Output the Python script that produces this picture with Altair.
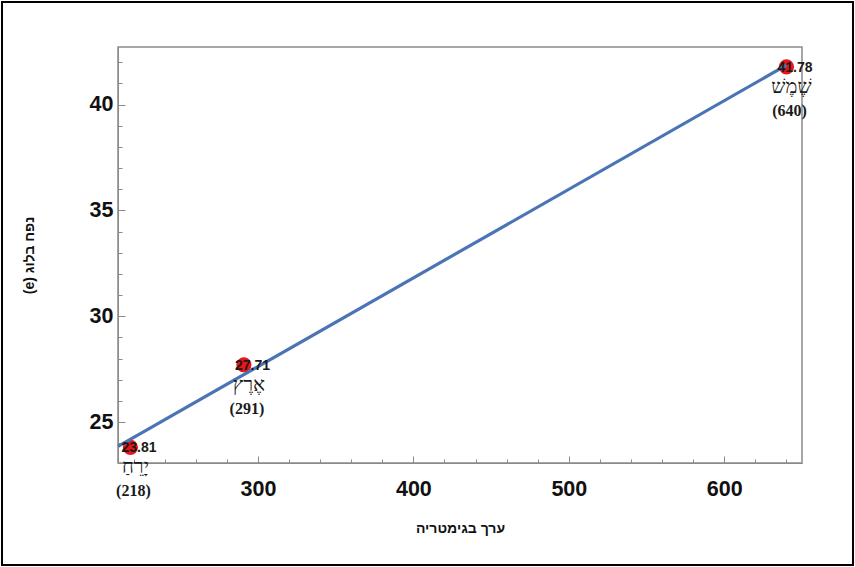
import altair as alt
import pandas as pd

gematria = [218, 291, 640]
volume_ln = [23.81, 27.71, 41.78]
names = ["יָרֵחַ", "אֶרֶץ", "שֶׁמֶשׁ"]
value_labels = ["23.81", "27.71", "41.78"]
paren_labels = ["(218)", "(291)", "(640)"]

x_major = [300, 400, 500, 600]
x_minor = [v for v in range(220, 650, 20) if v not in x_major]
y_major = [25, 30, 35, 40]
y_minor = [v for v in range(24, 43) if v not in y_major]

x_title = "ערך בגימטריה"
y_title = "\u202bנפח בלוג (e)\u202c"

df = pd.DataFrame({
    "x": gematria,
    "y": volume_ln,
    "name": names,
    "val": value_labels,
    "par": paren_labels,
})

W, H = 684, 416
xs = alt.Scale(domain=[210, 650], nice=False, zero=False)
ys = alt.Scale(domain=[23.07, 42.72], nice=False, zero=False)

GRAY = "#8a8a8a"

# axes carrying labels and titles (no ticks)
label_x_axis = alt.Axis(
    orient="bottom", values=x_major, title=x_title, grid=False, ticks=False,
    domainColor=GRAY,
    labelFont="Liberation Sans", labelFontSize=21.5, labelFontWeight="bold",
    labelColor="#111111", labelPadding=15,
    titleFont="Liberation Sans", titleFontSize=14, titleFontWeight="bold",
    titleColor="#111111", titlePadding=22,
)
label_y_axis = alt.Axis(
    orient="left", values=y_major, title=y_title, grid=False, ticks=False,
    domainColor=GRAY,
    labelFont="Liberation Sans", labelFontSize=21.5, labelFontWeight="bold",
    labelColor="#111111", labelPadding=5,
    titleFont="Liberation Sans", titleFontSize=14, titleFontWeight="bold",
    titleColor="#111111", titlePadding=53,
)
# inward major ticks
major_x_ticks = alt.Axis(
    orient="bottom", values=x_major, title=None, labels=False, domain=False,
    grid=False, tickSize=alt.ExprRef(expr="-7"), tickColor=GRAY,
)
major_y_ticks = alt.Axis(
    orient="left", values=y_major, title=None, labels=False, domain=False,
    grid=False, tickSize=alt.ExprRef(expr="-7"), tickColor=GRAY,
)
# inward minor ticks
minor_x_ticks = alt.Axis(
    orient="bottom", values=x_minor, title=None, labels=False, domain=False,
    grid=False, tickSize=alt.ExprRef(expr="-4"), tickColor=GRAY,
)
minor_y_ticks = alt.Axis(
    orient="left", values=y_minor, title=None, labels=False, domain=False,
    grid=False, tickSize=alt.ExprRef(expr="-4"), tickColor=GRAY,
)

base = alt.Chart(df)

frame = alt.Chart(alt.Data(values=[{}])).mark_rect(
    fill=None, stroke="black", strokeWidth=2
).encode(
    x=alt.value(-116), x2=alt.value(735), y=alt.value(-45), y2=alt.value(518)
)

points = base.mark_circle(size=230, color="#e8161b", opacity=1).encode(
    x=alt.X("x:Q", scale=xs, axis=label_x_axis),
    y=alt.Y("y:Q", scale=ys, axis=label_y_axis),
)

line = base.transform_regression(
    "x", "y", extent=[210, 640]
).mark_line(color="#4a74b5", strokeWidth=3.2).encode(
    x=alt.X("x:Q", scale=xs, axis=major_x_ticks),
    y=alt.Y("y:Q", scale=ys, axis=major_y_ticks),
)

vals = base.mark_text(
    align="left", baseline="middle", dx=-9, dy=1,
    font="Liberation Sans", fontSize=14, fontWeight="bold", color="#1a1a1a",
).encode(
    x=alt.X("x:Q", scale=xs, axis=minor_x_ticks),
    y=alt.Y("y:Q", scale=ys, axis=minor_y_ticks),
    text="val:N",
)

name_txt = base.mark_text(
    align="center", baseline="middle", dx=5, dy=20,
    font="Liberation Serif", fontSize=20, color="#1a1a1a",
).encode(
    x=alt.X("x:Q", scale=xs, axis=None),
    y=alt.Y("y:Q", scale=ys, axis=None),
    text="name:N",
)

par_txt = base.mark_text(
    align="center", baseline="middle", dx=3, dy=44,
    font="Liberation Serif", fontSize=16, fontWeight="bold", color="#1a1a1a",
).encode(
    x=alt.X("x:Q", scale=xs, axis=None),
    y=alt.Y("y:Q", scale=ys, axis=None),
    text="par:N",
)

chart = alt.layer(frame, points, line, vals, name_txt, par_txt).resolve_axis(
    x="independent", y="independent"
).properties(
    width=W, height=H,
    autosize=alt.AutoSizeParams(type="none"),
    padding={"left": 118, "top": 47, "right": 53, "bottom": 104},
    background="white",
).configure_view(stroke=GRAY, strokeWidth=1.5)

chart.save("out.html", embed_options={"renderer": "svg", "actions": False})
